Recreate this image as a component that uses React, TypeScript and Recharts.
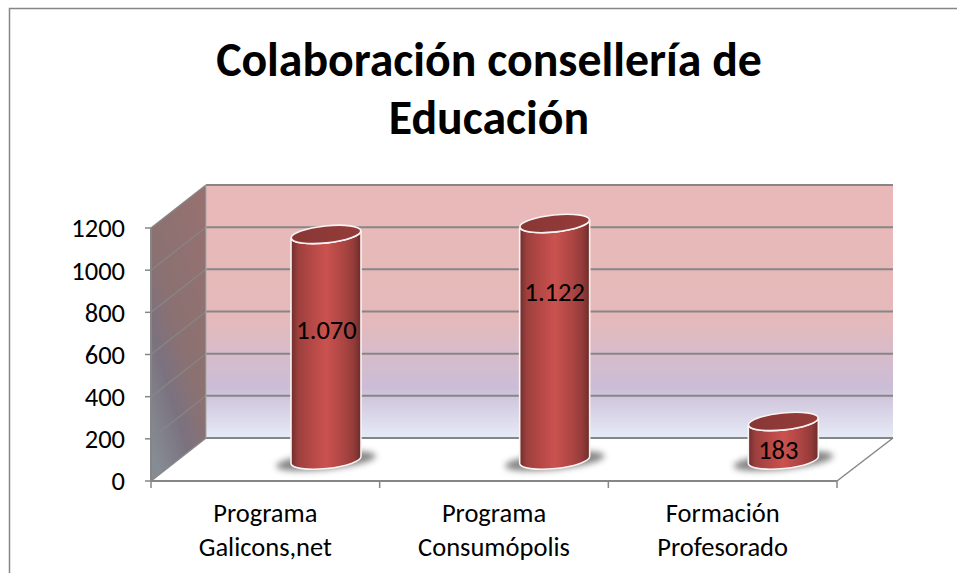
import React from "react";
import { BarChart, Bar, XAxis, YAxis, LabelList, usePlotArea } from "recharts";

const categories = ["Programa Galicons,net", "Programa Consumópolis", "Formación Profesorado"];
const values = [1070, 1122, 183];
const valueLabels = ["1.070", "1.122", "183"];
const yTicks = [0, 200, 400, 600, 800, 1000, 1200];
const titleLines = ["Colaboración consellería de", "Educación"];

const rows = categories.map((name, i) => ({ name, value: values[i], text: valueLabels[i] }));

const W = 957;
const H = 573;
const FONT = "Carlito, Lato, 'Open Sans', sans-serif";
const TICK_SIZE = 26.5;
const DEPTH_X = 55;
const DEPTH_Y = 43;
const BAR_SHIFT_X = 61;
const BAR_SHIFT_Y = 21;
const TILT = -6;
const RX = 35;
const RY = 8.5;
const SKEW = 3.7;
const LABEL_NUDGE = [
  [0.5, -17],
  [0, -50],
  [-5, 9],
];
const GRID = "#868686";

function Scene() {
  const p = usePlotArea();
  if (!p) return null;
  const x0 = p.x;
  const x1 = p.x + p.width;
  const yb = p.y + p.height;
  const yt = p.y;
  const yOf = (v: number) => yb - (v / 1200) * p.height;
  const bands = categories.length;
  return (
    <g>
      <polygon
        points={`${x0},${yt} ${x0 + DEPTH_X},${yt - DEPTH_Y} ${x0 + DEPTH_X},${yb - DEPTH_Y} ${x0},${yb}`}
        fill="url(#sideWall)"
      />
      <rect x={x0 + DEPTH_X} y={yt - DEPTH_Y} width={p.width + 1} height={p.height} fill="url(#backWall)" />
      <polygon
        points={`${x0},${yb} ${x0 + DEPTH_X},${yb - DEPTH_Y} ${x1 + DEPTH_X + 1},${yb - DEPTH_Y} ${x1},${yb}`}
        fill="#fff"
      />
      {yTicks.map((v) => (
        <g key={v}>
          <line
            x1={x0}
            y1={yOf(v)}
            x2={x0 + DEPTH_X}
            y2={yOf(v) - DEPTH_Y}
            stroke={GRID}
            strokeWidth={v === 0 || v === 1200 ? 1.5 : 1.3}
          />
          <line
            x1={x0 + DEPTH_X}
            y1={yOf(v) - DEPTH_Y}
            x2={x1 + DEPTH_X + 1}
            y2={yOf(v) - DEPTH_Y}
            stroke={GRID}
            strokeWidth={2}
          />
        </g>
      ))}
      <line x1={x0 + DEPTH_X} y1={yt - DEPTH_Y} x2={x0 + DEPTH_X} y2={yb - DEPTH_Y} stroke="#a9a9a9" strokeWidth={1} />
      <line x1={x1} y1={yb} x2={x1 + DEPTH_X + 1} y2={yb - DEPTH_Y} stroke={GRID} strokeWidth={1.5} />
      {Array.from({ length: bands + 1 }, (_, i) => (
        <line
          key={i}
          x1={x0 + (i * p.width) / bands}
          y1={yb}
          x2={x0 + (i * p.width) / bands}
          y2={yb + 7}
          stroke={GRID}
          strokeWidth={1.5}
        />
      ))}
    </g>
  );
}

function Cylinder(props: any) {
  const { x, y, width, height } = props;
  const cx = x + width / 2 + BAR_SHIFT_X;
  const top = y - BAR_SHIFT_Y;
  const bottom = y + height - BAR_SHIFT_Y;
  const l = cx - RX;
  const r = cx + RX;
  const body = `M${l},${top + SKEW} L${l},${bottom + SKEW} A${RX},${RY} ${TILT} 0 0 ${r},${bottom - SKEW} L${r},${top - SKEW} A${RX},${RY} ${TILT} 0 1 ${l},${top + SKEW} Z`;
  return (
    <g>
      <ellipse
        cx={cx}
        cy={bottom + 1}
        rx={50}
        ry={8.5}
        fill="#555"
        opacity={0.72}
        filter="url(#soft)"
        transform={`rotate(${TILT} ${cx} ${bottom + 1})`}
      />
      <path d={body} fill="url(#cyl)" stroke="#fbf3f3" strokeWidth={1.6} />
      <ellipse
        cx={cx}
        cy={top}
        rx={RX}
        ry={RY}
        fill="url(#cylTop)"
        stroke="#fbf3f3"
        strokeWidth={1.6}
        transform={`rotate(${TILT} ${cx} ${top})`}
      />
    </g>
  );
}

function CategoryTick(props: any) {
  const { x, y, payload } = props;
  const [a, b] = String(payload.value).split(" ");
  return (
    <text textAnchor="middle" fontFamily={FONT} fontSize={TICK_SIZE} fill="#000">
      <tspan x={x} y={y + 33}>{a}</tspan>
      <tspan x={x} y={y + 67}>{b}</tspan>
    </text>
  );
}

function ValueLabel(props: any) {
  const { x, y, width, height, index } = props;
  const [dx, dy] = LABEL_NUDGE[index];
  return (
    <text
      x={x + width / 2 + BAR_SHIFT_X + dx}
      y={y + height / 2 - BAR_SHIFT_Y + dy}
      textAnchor="middle"
      dominantBaseline="central"
      fontFamily={FONT}
      fontSize={TICK_SIZE}
      fill="#000"
    >
      {valueLabels[index]}
    </text>
  );
}

export default function App() {
  return (
    <div style={{ position: "absolute", left: 0, top: 0, width: W, height: H, background: "#fff", overflow: "hidden" }}>
      <BarChart width={W} height={H} data={rows} margin={{ top: 228, right: 120, bottom: 0, left: 0 }}>
        <defs>
          <linearGradient id="backWall" x1="0" y1="0" x2="0" y2="1">
            <stop offset="0" stopColor="#e9b9b8" />
            <stop offset="0.52" stopColor="#e5b9ba" />
            <stop offset="0.8" stopColor="#cbbdd7" />
            <stop offset="1" stopColor="#e6ebf7" />
          </linearGradient>
          <linearGradient id="sideWall" x1="0.8" y1="0" x2="0.2" y2="1">
            <stop offset="0" stopColor="#967170" />
            <stop offset="0.5" stopColor="#8b7172" />
            <stop offset="0.72" stopColor="#7b7280" />
            <stop offset="1" stopColor="#868c94" />
          </linearGradient>
          <linearGradient id="cyl" x1="0" y1="0" x2="1" y2="0">
            <stop offset="0" stopColor="#6e2d2b" />
            <stop offset="0.1" stopColor="#9c403e" />
            <stop offset="0.28" stopColor="#b34745" />
            <stop offset="0.5" stopColor="#ca524f" />
            <stop offset="0.75" stopColor="#ac4543" />
            <stop offset="0.9" stopColor="#933b39" />
            <stop offset="1" stopColor="#6b2c2a" />
          </linearGradient>
          <linearGradient id="cylTop" x1="0" y1="0" x2="1" y2="0">
            <stop offset="0" stopColor="#883735" />
            <stop offset="1" stopColor="#953c3a" />
          </linearGradient>
          <filter id="soft" x="-20%" y="-60%" width="140%" height="220%">
            <feGaussianBlur stdDeviation="3" />
          </filter>
        </defs>
        <rect x={9.5} y={8.5} width={W + 20} height={H + 20} fill="#fff" stroke="#868686" strokeWidth={1.5} />
        <text textAnchor="middle" fontFamily={FONT} fontWeight={700} fontSize={47.8} fill="#000">
          {titleLines.map((line, i) => (
            <tspan key={line} x={489} y={76 + i * 58}>{line}</tspan>
          ))}
        </text>
        <Scene />
        <XAxis
          dataKey="name"
          axisLine={{ stroke: GRID, strokeWidth: 2 }}
          tickLine={false}
          interval={0}
          tick={<CategoryTick />}
          height={92}
        />
        <YAxis
          domain={[0, 1200]}
          ticks={yTicks}
          interval={0}
          width={151}
          axisLine={{ stroke: GRID, strokeWidth: 2 }}
          tickLine={{ stroke: GRID, strokeWidth: 1.5 }}
          tickSize={6}
          tickMargin={20}
          tick={{ fontFamily: FONT, fontSize: TICK_SIZE, fill: "#000" }}
        />
        <Bar dataKey="value" barSize={70} shape={<Cylinder />} isAnimationActive={false}>
          <LabelList dataKey="text" content={<ValueLabel />} />
        </Bar>
      </BarChart>
    </div>
  );
}
